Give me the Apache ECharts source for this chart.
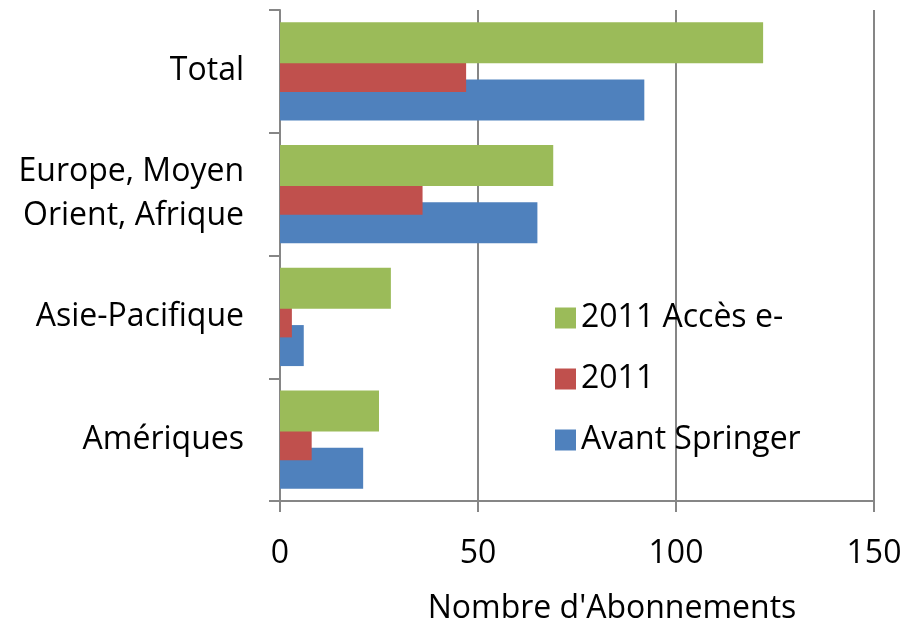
<!DOCTYPE html>
<html style="height: 100%; width: 100%">
  <head>
    <meta charset="utf-8" />
  </head>
  <body style="height: 100%; width: 100%; margin: 0">
    <div id="chart-panel" style="height: 623px; width: 904px"></div>
    <script
      type="text/javascript"
      src="https://fastly.jsdelivr.net/npm/echarts@6/dist/echarts.min.js"
    ></script>
    <script type="text/javascript">
      var categories = ["Amériques", "Asie-Pacifique", "Europe, Moyen\nOrient, Afrique", "Total"];
      var avantSpringer = [21, 6, 65, 92];
      var an2011 = [8, 3, 36, 47];
      var acces2011 = [25, 28, 69, 122];
      var xTicks = [0, 50, 100, 150];

      var dom = document.getElementById("chart-panel");
      var myChart = echarts.init(dom);
      var font = "Open Sans";
      var gray = "#868686";

      var option = {
        animation: false,
        textStyle: { fontFamily: font },
        grid: {
          left: 280,
          right: 30,
          top: 10,
          bottom: 122,
          containLabel: false,
          outerBoundsMode: "none",
        },
        legend: {
          orient: "vertical",
          left: 550,
          top: 297,
          itemWidth: 21,
          itemHeight: 21,
          itemGap: 29,
          icon: "rect",
          data: ["2011 Accès e-", "2011", "Avant Springer"],
          textStyle: { fontSize: 32, color: "#000", fontFamily: font },
        },
        xAxis: {
          type: "value",
          min: xTicks[0],
          max: xTicks[xTicks.length - 1],
          interval: 50,
          name: "Nombre d'Abonnements",
          nameLocation: "middle",
          nameGap: 92,
          nameTextStyle: {
            fontSize: 32,
            color: "#000",
            fontFamily: font,
            padding: [0, 0, 0, 70],
          },
          axisLine: { show: true, lineStyle: { color: gray, width: 2 } },
          axisTick: { show: true, length: 11, lineStyle: { color: gray, width: 2 } },
          axisLabel: { fontSize: 32, color: "#000", margin: 37, fontFamily: font },
          splitLine: { show: true, lineStyle: { color: gray, width: 2 } },
        },
        yAxis: {
          type: "category",
          data: categories,
          axisLine: { show: true, lineStyle: { color: gray, width: 2 } },
          axisTick: { show: true, length: 11, lineStyle: { color: gray, width: 2 } },
          axisLabel: {
            fontSize: 32,
            color: "#000",
            margin: 36,
            lineHeight: 44,
            align: "right",
            fontFamily: font,
          },
        },
        series: [
          {
            name: "2011 Accès e-",
            type: "bar",
            data: acces2011,
            barWidth: 41,
            barGap: "-30%",
            z: 4,
            itemStyle: { color: "#9BBB59" },
          },
          {
            name: "2011",
            type: "bar",
            data: an2011,
            barWidth: 41,
            barGap: "-30%",
            z: 3,
            itemStyle: { color: "#C0504D" },
          },
          {
            name: "Avant Springer",
            type: "bar",
            data: avantSpringer,
            barWidth: 41,
            barGap: "-30%",
            z: 2,
            itemStyle: { color: "#4F81BD" },
          },
        ],
      };
      myChart.setOption(option);
    </script>
  </body>
</html>
